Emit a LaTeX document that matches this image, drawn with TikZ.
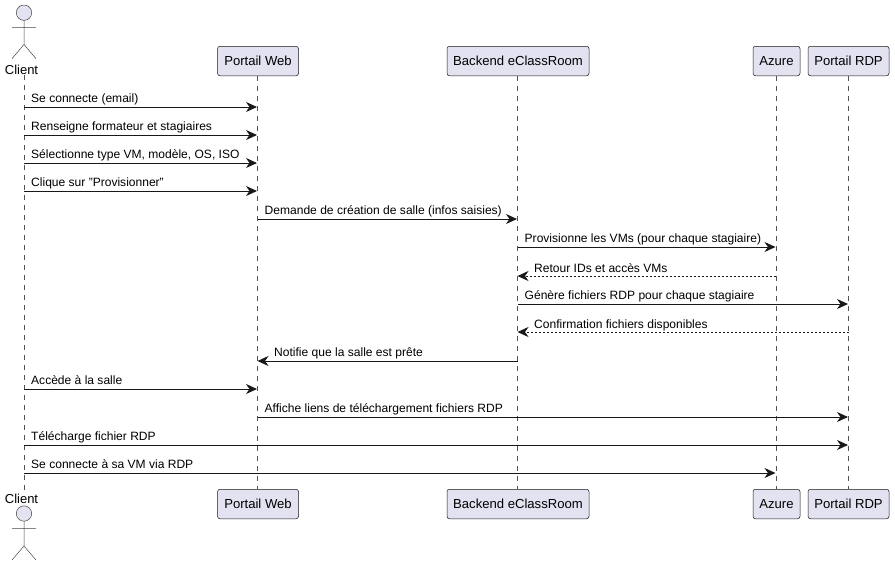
\documentclass[tikz,border=0pt]{standalone}
\usepackage{fontspec}
\setmainfont{Liberation Sans}
\usetikzlibrary{arrows.meta}
\definecolor{umlfill}{HTML}{E2E2F0}
\definecolor{umlline}{HTML}{181818}
\tikzset{
  x=1pt,y=-1pt,
  partbox/.style={draw=umlline,line width=0.5pt,fill=umlfill,rounded corners=2.5pt,minimum height=29.5pt,inner sep=0pt,text height=9.4pt,text depth=0pt,font=\fontsize{13.1}{16}\selectfont,text=black},
  lifeline/.style={draw=umlline!75,line width=0.5pt,dash pattern=on 5pt off 5pt},
  msgline/.style={draw=umlline,line width=0.9pt,-{Stealth[length=11pt,width=10pt,inset=3.5pt]}},
  retline/.style={msgline,dash pattern=on 2pt off 2pt},
  msglabel/.style={font=\fontsize{12.05}{14}\selectfont,inner sep=0pt,anchor=base west,text=black},
  actorlabel/.style={font=\fontsize{13}{16}\selectfont,inner sep=0pt,text=black},
  actorhead/.style={draw=umlline!80,line width=0.5pt,fill=umlfill},
  actorline/.style={draw=umlline!80,line width=0.5pt},
}
\newcommand{\msgto}[5]{%
  \coordinate (m#1a) at (#2 |- 0,#4);
  \coordinate (m#1b) at (#3 |- 0,#4);
  \draw[msgline] (m#1a) -- ([xshift=-0.5pt]m#1b);
  \node[msglabel] (l#1) at ([xshift=7pt,yshift=5pt]m#1a) {#5};
}
\begin{document}
\begin{tikzpicture}
\useasboundingbox[fill=white] (0,0) rectangle (895,566);
% participants
\node[partbox,minimum width=81pt] (pwt) at (258,61) {Portail Web};
\node[partbox,minimum width=142pt] (bet) at (518,61) {Backend eClassRoom};
\node[partbox,minimum width=47pt] (azt) at (776.5,61) {Azure};
\node[partbox,minimum width=81pt] (rdt) at (848.5,61) {Portail RDP};
\node[partbox,minimum width=81pt] (pwb) at (258,504) {Portail Web};
\node[partbox,minimum width=142pt] (beb) at (518,504) {Backend eClassRoom};
\node[partbox,minimum width=47pt] (azb) at (776.5,504) {Azure};
\node[partbox,minimum width=81pt] (rdb) at (848.5,504) {Portail RDP};
\node[actorlabel] (clt) at (21.5,70) {Client};
\node[actorlabel] (clb) at (21.5,499) {Client};
% anchors of the lifelines
\coordinate (c) at (24,0);
\coordinate (p) at (257.5,0);
\coordinate (b) at (517.5,0);
\coordinate (a) at (776,0);
\coordinate (r) at (848.5,0);
% lifelines
\draw[lifeline] (c |- clt.south) -- (c |- clb.north);
\draw[lifeline] (p |- pwt.south) -- (p |- pwb.north);
\draw[lifeline] (b |- bet.south) -- (b |- beb.north);
\draw[lifeline] (a |- azt.south) -- (a |- azb.north);
\draw[lifeline] (r |- rdt.south) -- (r |- rdb.north);
% actors
\draw[actorhead] (24,12.7) circle (7.7);
\draw[actorline] (24,20.4) -- (24,44.5) (12,27.3) -- (36,27.3) (12,58.7) -- (24,44.5) -- (36,58.7);
\draw[actorhead] (24,513.5) circle (7.7);
\draw[actorline] (24,521.2) -- (24,546) (12,528.3) -- (36,528.3) (12,560) -- (24,546) -- (36,560);
% messages
\msgto{1}{c}{p}{107}{Se connecte (email)}
\msgto{2}{c}{p}{135}{Renseigne formateur et stagiaires}
\msgto{3}{c}{p}{163}{Sélectionne type VM, modèle, OS, ISO}
\msgto{4}{c}{p}{191}{Clique sur "Provisionner"}
\msgto{5}{p}{b}{219}{Demande de création de salle (infos saisies)}
\msgto{6}{b}{a}{247}{Provisionne les VMs (pour chaque stagiaire)}
\coordinate (m7a) at (a |- 0,276);
\coordinate (m7b) at (b |- 0,276);
\draw[retline] (m7a) -- (m7b);
\node[msglabel] (l7) at (534,272) {Retour IDs et accès VMs};
\msgto{8}{b}{r}{304}{Génère fichiers RDP pour chaque stagiaire}
\coordinate (m9a) at (r |- 0,332);
\coordinate (m9b) at (b |- 0,332);
\draw[retline] (m9a) -- (m9b);
\node[msglabel] (l9) at (534,328) {Confirmation fichiers disponibles};
\coordinate (m10a) at (b |- 0,361);
\coordinate (m10b) at (p |- 0,361);
\draw[msgline] (m10a) -- (m10b);
\node[msglabel] (l10) at (274,356) {Notifie que la salle est prête};
\msgto{11}{c}{p}{389}{Accède à la salle}
\msgto{12}{p}{r}{417}{Affiche liens de téléchargement fichiers RDP}
\msgto{13}{c}{r}{445}{Télécharge fichier RDP}
\msgto{14}{c}{a}{473}{Se connecte à sa VM via RDP}
\end{tikzpicture}
\end{document}
